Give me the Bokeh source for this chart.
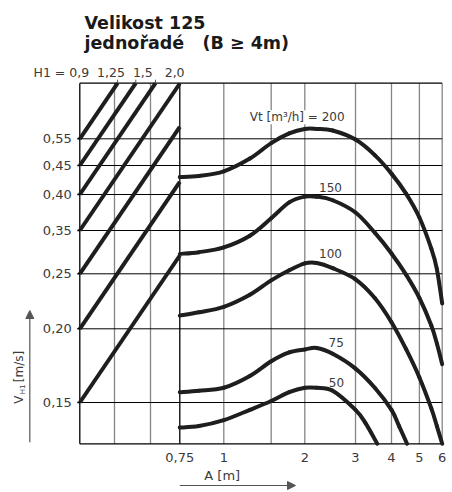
import numpy as np
from bokeh.plotting import figure
from bokeh.models import Range1d, Arrow, NormalHead, Label
from bokeh.core.properties import value
from bokeh.embed import file_html
from bokeh.resources import INLINE

NB = "\u00a0"
# ---------------- data ----------------
title_lines = ["Velikost 125", "jednořadé" + NB * 3 + "(B ≥ 4m)"]
v_ticks = [0.15, 0.20, 0.25, 0.35, 0.40, 0.45, 0.55]
v_tick_labels = ["0,15", "0,20", "0,25", "0,35", "0,40", "0,45", "0,55"]
a_ticks = [0.75, 1, 2, 3, 4, 5, 6]
a_tick_labels = ["0,75", "1", "2", "3", "4", "5", "6"]
a_grid = [0.75, 1, 1.5, 2, 3, 4, 5, 6]
h1_text = "H1 = 0,9" + NB * 2 + "1,25" + NB * 2 + "1,5" + NB * 3 + "2,0"
h1_start_v = [0.55, 0.45, 0.40, 0.35, 0.25, 0.20, 0.15]

a_common = [0.75, 0.85, 1, 1.25, 1.5, 1.75, 2, 2.2, 2.5, 3, 3.5, 4, 4.5, 5, 5.5, 5.75, 6]
v_200 = [0.430, 0.432, 0.440, 0.476, 0.534, 0.570, 0.587, 0.587, 0.581, 0.547, 0.489, 0.436, 0.401, 0.368, 0.308, 0.261, 0.223]
v_150 = [0.296, 0.300, 0.311, 0.338, 0.367, 0.389, 0.397, 0.397, 0.392, 0.375, 0.345, 0.297, 0.249, 0.228, 0.203, 0.190, 0.176]
v_100 = [0.212, 0.215, 0.220, 0.231, 0.244, 0.258, 0.274, 0.275, 0.263, 0.245, 0.228, 0.206, 0.186, 0.167, 0.146, 0.134, 0.122]
a_75 = [0.75, 0.85, 1, 1.25, 1.5, 1.75, 2, 2.2, 2.5, 3, 3.5, 4, 4.25, 4.53]
v_75 = [0.157, 0.158, 0.160, 0.168, 0.178, 0.184, 0.186, 0.187, 0.183, 0.173, 0.160, 0.145, 0.134, 0.122]
a_50 = [0.75, 0.85, 1, 1.25, 1.5, 1.75, 2, 2.2, 2.5, 3, 3.25, 3.57]
v_50 = [0.133, 0.134, 0.138, 0.145, 0.151, 0.157, 0.160, 0.160, 0.158, 0.145, 0.136, 0.122]
vt_labels = ["Vt [m³/h] = 200", "150", "100", "75", "50"]

# ---------------- scale calibration (layout, 1 unit = 1 px) ----------------
X_A = [0.75, 1.0, 2.0, 6.0]
X_POS = [100.0, 144.0, 225.0, 362.4]
Y_POS = [41.3, 115.0, 170.0, 213.3, 249.3, 278.3, 305.0]


def fx(a):
    return np.interp(np.log10(np.asarray(a, float)), np.log10(X_A), X_POS)


def fy(v):
    v = np.asarray(v, float)
    y = np.interp(v, v_ticks, Y_POS)
    lo = (Y_POS[1] - Y_POS[0]) / (v_ticks[1] - v_ticks[0])
    hi = (Y_POS[-1] - Y_POS[-2]) / (v_ticks[-1] - v_ticks[-2])
    y = np.where(v < v_ticks[0], Y_POS[0] + (v - v_ticks[0]) * lo, y)
    y = np.where(v > v_ticks[-1], Y_POS[-1] + (v - v_ticks[-1]) * hi, y)
    return y


def spline(p, xs, ys, **kw):
    """Draw a smooth curve through the points as Catmull-Rom bezier segments."""
    P = np.column_stack([xs, ys])
    n = len(P)
    Pm = np.vstack([P[0], P, P[-1]])
    a, b = Pm[1:n], Pm[2:n + 1]
    c1 = a + (Pm[2:n + 1] - Pm[0:n - 1]) / 6.0
    c2 = b - (Pm[3:n + 2] - Pm[1:n]) / 6.0
    p.bezier(x0=a[:, 0], y0=a[:, 1], x1=b[:, 0], y1=b[:, 1],
             cx0=c1[:, 0], cy0=c1[:, 1], cx1=c2[:, 0], cy1=c2[:, 1], **kw)


XMAX, YMAX = 362.4, 360.6          # plot box size
X0, Y0 = 79.3, 443.3               # box origin on the page
W, H = 452, 492
FONT = "DejaVu Sans"
INK = "#1e1e1e"
TXT = "#3a3a3a"
GRID = "#858585"

p = figure(width=W, height=H, x_range=Range1d(-X0, W - X0), y_range=Range1d(Y0 - H, Y0),
           output_backend="svg", toolbar_location=None,
           x_axis_location=None, y_axis_location=None, min_border=0)
p.xgrid.visible = False
p.ygrid.visible = False
p.outline_line_color = None
p.background_fill_color = "white"
p.border_fill_color = "white"

# ---- grid ----
gx = [float(x) for x in fx(a_grid)] + [34.7, 70.7]
gcol = ["black" if a == 0.75 else GRID for a in a_grid] + [GRID, GRID]
p.segment(x0=gx, y0=[0] * len(gx), x1=gx, y1=[YMAX] * len(gx), line_color=gcol, line_width=1.3)
gy = [float(y) for y in fy(v_ticks)]
p.segment(x0=[0] * len(gy), y0=gy, x1=[XMAX] * len(gy), y1=gy, line_color="black", line_width=1)
# box
p.segment(x0=[0, 0, 0], y0=[0, 0, YMAX], x1=[0, XMAX, XMAX], y1=[YMAX, 0, YMAX],
          line_color="black", line_width=1.3)

# ---- curve labels (white background hides grid lines) ----
lab_pos = [(217.4, 326.6), (250.7, 256.0), (250.7, 190.0), (256.4, 101.6), (256.7, 61.6)]
for txt, (lx, ly) in zip(vt_labels, lab_pos):
    p.add_layout(Label(x=lx, y=ly, text=txt, text_align="center", text_baseline="middle",
                       text_font=FONT, text_font_size="12px", text_color=TXT,
                       background_fill_color="white", level="glyph"))

# ---- H1 conversion lines ----
slope = 1.47
y0 = fy(h1_start_v)
x1 = np.minimum(100.0, (YMAX - y0) / slope)
y1 = y0 + slope * x1
p.segment(x0=np.zeros(len(y0)), y0=y0, x1=x1, y1=y1, line_width=4, line_color=INK)
top = y1 >= YMAX - 0.01
p.segment(x0=x1[top], y0=[YMAX] * int(top.sum()), x1=x1[top], y1=[YMAX + 3.5] * int(top.sum()),
          line_color="#555555", line_width=1)

# ---- Vt curves ----
for a, v in [(a_common, v_200), (a_common, v_150), (a_common, v_100), (a_75, v_75), (a_50, v_50)]:
    spline(p, fx(a), fy(v), line_width=4, line_color=INK, line_cap="round")

# ---- tick labels ----
p.text(x=[-8.0] * len(gy), y=gy, text=v_tick_labels, text_align="right", text_baseline="middle",
       text_font=value(FONT), text_font_size="13px", text_color=TXT)
p.segment(x0=[-2.5] * len(gy), y0=gy, x1=[0] * len(gy), y1=gy, line_color="black", line_width=1.5)
xt = [float(x) for x in fx(a_ticks)]
p.text(x=xt, y=[-13.4] * len(xt), text=a_tick_labels, text_align="center", text_baseline="middle",
       text_font=value(FONT), text_font_size="13px", text_color=TXT)

# ---- titles and texts ----
p.text(x=[4.7, 4.7], y=[420.6, 400.6], text=title_lines, text_font=value(FONT),
       text_font_style="bold", text_font_size="17.5px", text_color="#1a1a1a",
       text_baseline="alphabetic")
p.text(x=[-46.3], y=[371.6], text=[h1_text], text_font=value(FONT), text_font_size="12.5px",
       text_color=TXT, text_baseline="middle")

# y title (rotated) with subscript
p.text(x=[-61.0, -57.3, -60.5], y=[40.0, 49.5, 61.6], text=["V", "H1", "[m/s]"],
       angle=np.pi / 2, text_font=value(FONT), text_font_size=["12px", "7px", "12px"],
       text_color=TXT, text_baseline="middle", text_align="left")
p.add_layout(Arrow(x_start=-50, y_start=1.6, x_end=-50, y_end=133.3, line_color="#555555",
                   line_width=1.2, end=NormalHead(size=8, fill_color="#555555", line_color="#555555")))

# x title and arrow
p.text(x=[142.4], y=[-31.7], text=["A [m]"], text_align="center", text_baseline="middle",
       text_font=value(FONT), text_font_size="13px", text_color=TXT)
p.add_layout(Arrow(x_start=100, y_start=-41.7, x_end=215.7, y_end=-41.7, line_color="#555555",
                   line_width=1.2, end=NormalHead(size=8, fill_color="#555555", line_color="#555555")))

open("out.html", "w").write(file_html(p, INLINE))
